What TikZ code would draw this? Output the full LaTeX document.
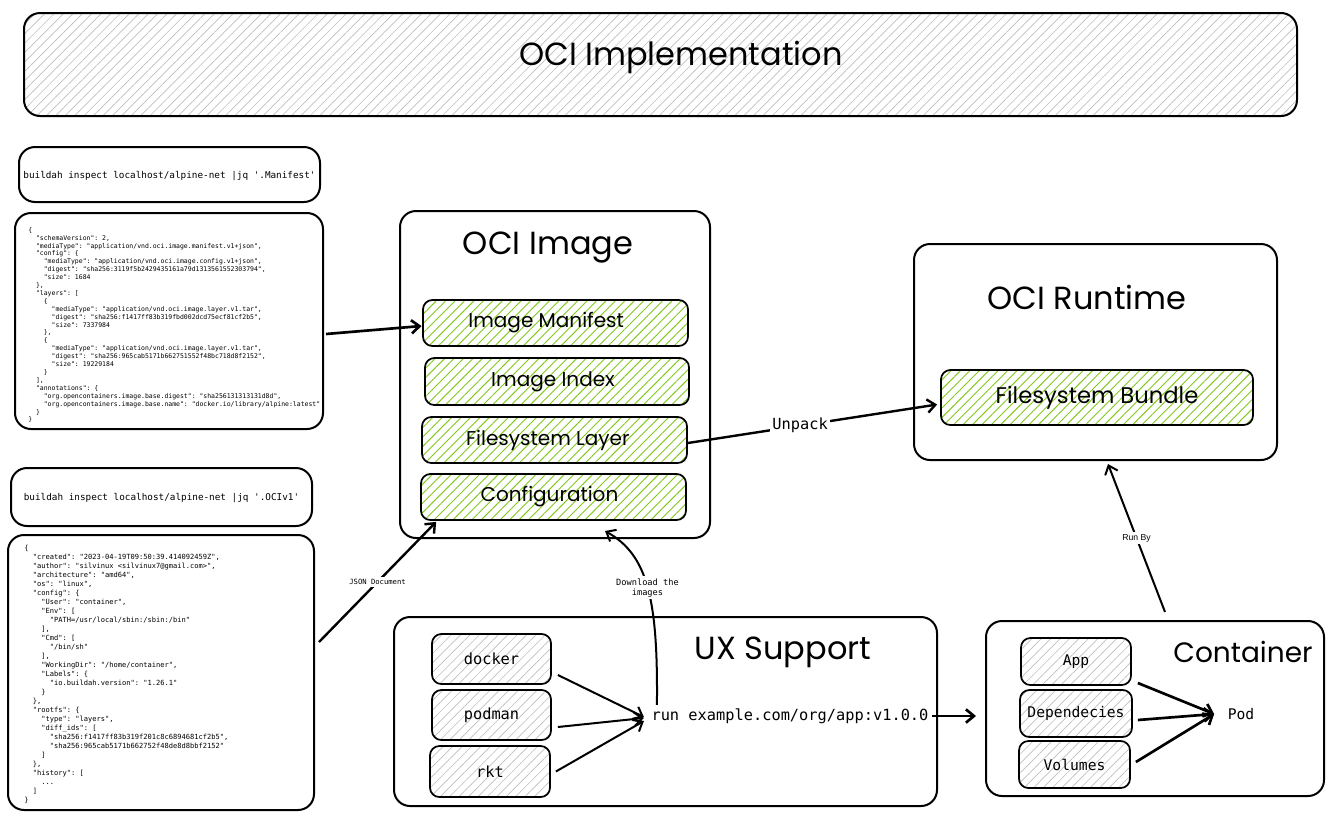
\documentclass[tikz,border=0pt]{standalone}
\usepackage{fontspec}
\setmainfont{Poppins}
\setmonofont{DejaVu Sans Mono}
\newfontfamily\labsans{Liberation Sans}
\usetikzlibrary{arrows.meta,patterns.meta,calc}
\definecolor{hgreen}{RGB}{130,201,30}
\definecolor{hgray}{RGB}{190,190,190}
\newcommand\jin{\ \ }
\begin{document}
\begin{tikzpicture}[x=0.75pt,y=-0.75pt,
  wh/.style 2 args={minimum width=#1*0.75pt,minimum height=#2*0.75pt},
  box/.style={draw,line width=1.5pt,rounded corners=12pt,inner sep=0pt},
  sbox/.style={draw,line width=1.3pt,rounded corners=7pt,inner sep=0pt},
  greenbox/.style={sbox,pattern={Lines[angle=45,distance=5pt,line width=0.7pt]},pattern color=hgreen},
  graybox/.style={sbox,pattern={Lines[angle=45,distance=5pt,line width=0.5pt]},pattern color=hgray},
  bigtitle/.style={font=\fontsize{24}{28}\selectfont},
  midtitle/.style={font=\fontsize{15}{18}\selectfont},
  monolab/.style={font=\ttfamily\fontsize{11.5}{13}\selectfont},
  cmdtxt/.style={font=\ttfamily\fontsize{7}{8}\selectfont},
  jsontxt/.style={align=left,inner sep=0pt},
  arr/.style={line width=1.5pt,-{Straight Barb[length=6pt,width=10pt]}},
  lab/.style={fill=white,inner sep=1.5pt}
]
\useasboundingbox (0,0) rectangle (1338,822);

% title
\node[box,wh={1273}{103},pattern={Lines[angle=45,distance=5pt,line width=0.5pt]},pattern color=hgray] (title) at (660.5,64.5) {};
\node[bigtitle] (titletxt) at (681,57) {OCI Implementation};

% command boxes
\node[box,wh={301}{55}] (cmd1) at (169.5,174.5) {};
\node[cmdtxt] (cmd1t) at (169.5,176) {buildah inspect localhost/alpine-net |jq '.Manifest'};
\node[box,wh={308}{216}] (json1) at (169,321) {};
\node[jsontxt,font=\ttfamily\fontsize{4.85}{5.93}\selectfont,anchor=north west] (json1t) at (28,227) {%
\{\\
\jin"schemaVersion": 2,\\
\jin"mediaType": "application/vnd.oci.image.manifest.v1+json",\\
\jin"config": \{\\
\jin\jin"mediaType": "application/vnd.oci.image.config.v1+json",\\
\jin\jin"digest": "sha256:3119f5b2429435161a79d1313561552303794",\\
\jin\jin"size": 1684\\
\jin\},\\
\jin"layers": [\\
\jin\jin\{\\
\jin\jin\jin"mediaType": "application/vnd.oci.image.layer.v1.tar",\\
\jin\jin\jin"digest": "sha256:f1417ff83b319fbd002dcd75ecf81cf2b5",\\
\jin\jin\jin"size": 7337984\\
\jin\jin\},\\
\jin\jin\{\\
\jin\jin\jin"mediaType": "application/vnd.oci.image.layer.v1.tar",\\
\jin\jin\jin"digest": "sha256:965cab5171b662751552f48bc718d8f2152",\\
\jin\jin\jin"size": 19229184\\
\jin\jin\}\\
\jin],\\
\jin"annotations": \{\\
\jin\jin"org.opencontainers.image.base.digest": "sha256131313131d8d",\\
\jin\jin"org.opencontainers.image.base.name": "docker.io/library/alpine:latest"\\
\jin\}\\
\}};

\node[box,wh={301}{58}] (cmd2) at (161.5,497) {};
\node[cmdtxt] (cmd2t) at (161.5,498) {buildah inspect localhost/alpine-net |jq '.OCIv1'};
\node[box,wh={306}{275}] (json2) at (161,672.5) {};
\node[jsontxt,font=\ttfamily\fontsize{5.3}{6.75}\selectfont,anchor=north west] (json2t) at (24,545) {%
\{\\
\jin"created": "2023-04-19T09:50:39.414092459Z",\\
\jin"author": "silvinux <silvinux7@gmail.com>",\\
\jin"architecture": "amd64",\\
\jin"os": "linux",\\
\jin"config": \{\\
\jin\jin"User": "container",\\
\jin\jin"Env": [\\
\jin\jin\jin"PATH=/usr/local/sbin:/sbin:/bin"\\
\jin\jin],\\
\jin\jin"Cmd": [\\
\jin\jin\jin"/bin/sh"\\
\jin\jin],\\
\jin\jin"WorkingDir": "/home/container",\\
\jin\jin"Labels": \{\\
\jin\jin\jin"io.buildah.version": "1.26.1"\\
\jin\jin\}\\
\jin\},\\
\jin"rootfs": \{\\
\jin\jin"type": "layers",\\
\jin\jin"diff\_ids": [\\
\jin\jin\jin"sha256:f1417ff83b319f201c8c6894681cf2b5",\\
\jin\jin\jin"sha256:965cab5171b662752f48de8d8bbf2152"\\
\jin\jin]\\
\jin\},\\
\jin"history": [\\
\jin\jin...\\
\jin]\\
\}};

% OCI Image
\node[box,wh={310}{327}] (ociimg) at (555,374.5) {};
\node[bigtitle] (ociimgt) at (548,248) {OCI Image};
\node[greenbox,wh={265}{46},midtitle] (manifest) at (555.5,323) {Image Manifest\hspace*{14pt}};
\node[greenbox,wh={264}{47},midtitle] (index) at (557,381.5) {Image Index\hspace*{6pt}};
\node[greenbox,wh={265}{46},midtitle] (layer) at (554.5,440) {Filesystem Layer\hspace*{10pt}};
\node[greenbox,wh={265}{46},midtitle] (config) at (553.5,497) {Configuration\hspace*{6pt}};

% OCI Runtime
\node[box,wh={363}{216}] (runtime) at (1095.5,352) {};
\node[bigtitle] (runtimet) at (1087,297) {OCI Runtime};
\node[greenbox,wh={312}{55},font=\fontsize{17}{20}\selectfont] (bundle) at (1097,397.5) {Filesystem Bundle};

% UX Support
\node[box,wh={543}{189}] (ux) at (665.5,711.5) {};
\node[bigtitle] (uxt) at (783,652) {UX Support};
\node[graybox,wh={119}{50},monolab] (docker) at (491.5,659) {docker};
\node[graybox,wh={119}{50},monolab] (podman) at (491.5,715) {podman};
\node[graybox,wh={120}{51},monolab] (rkt) at (490,771.5) {rkt};
\node[monolab,inner sep=1pt] (run) at (790,716) {run example.com/org/app:v1.0.0};

% Container
\node[box,wh={338}{175}] (container) at (1155,708.5) {};
\node[font=\fontsize{21}{24}\selectfont] (containert) at (1243,652) {Container};
\node[graybox,wh={110}{47},font=\ttfamily\fontsize{11}{13}\selectfont] (app) at (1076,661.5) {App};
\node[graybox,wh={112}{47},font=\ttfamily\fontsize{11}{13}\selectfont] (deps) at (1076,713.5) {Dependecies};
\node[graybox,wh={111}{47},font=\ttfamily\fontsize{11}{13}\selectfont] (vol) at (1074.5,764.5) {Volumes};
\node[font=\ttfamily\fontsize{11}{13}\selectfont,inner sep=1pt] (pod) at (1241,714) {Pod};

% connectors
\draw[arr,line width=2pt] ($(json1.east)+(2,13)$) -- ($(manifest.west)+(-1,3)$);
\draw[arr,line width=1.8pt] ($(layer.east)+(0,3)$) -- node[lab,monolab,pos=0.45] {Unpack} ($(bundle.west)+(-3,7)$);
\draw[arr,line width=1.8pt] ($(json2.east)+(4,-30.5)$) -- node[lab,font=\ttfamily\fontsize{5.4}{6}\selectfont,pos=0.5] {JSON Document} ($(config.south west)+(16,1)$);
\draw[arr] ($(run.north west)+(7,-2)$) .. controls (658,600) and (648,555) .. node[lab,font=\ttfamily\fontsize{6.5}{7.5}\selectfont,align=center,pos=0.5] {Download the\\images} ($(ociimg.south)+(50,-8)$);
\draw[arr] ($(docker.east)+(6,16)$) -- ($(run.west)+(-6,1)$);
\draw[arr] ($(podman.east)+(6,12)$) -- ($(run.west)+(-6,2)$);
\draw[arr] ($(rkt.east)+(5,0)$) -- ($(run.west)+(-6,5)$);
\draw[arr,line width=2pt] ($(run.east)+(2,0)$) -- ($(container.west)+(-9,7.5)$);
\draw[arr] ($(container.north)+(10,-8)$) -- node[lab,font=\labsans\fontsize{6.5}{7.5}\selectfont,pos=0.5] {Run By} ($(runtime.south)+(12.5,3)$);
\draw[arr,line width=2pt] ($(app.east)+(6,21.5)$) -- ($(pod.west)+(-12,0)$);
\draw[arr,line width=2pt] ($(deps.east)+(5,6.5)$) -- ($(pod.west)+(-12,0)$);
\draw[arr,line width=2pt] ($(vol.east)+(5,-2.5)$) -- ($(pod.west)+(-12,0)$);
\end{tikzpicture}
\end{document}
